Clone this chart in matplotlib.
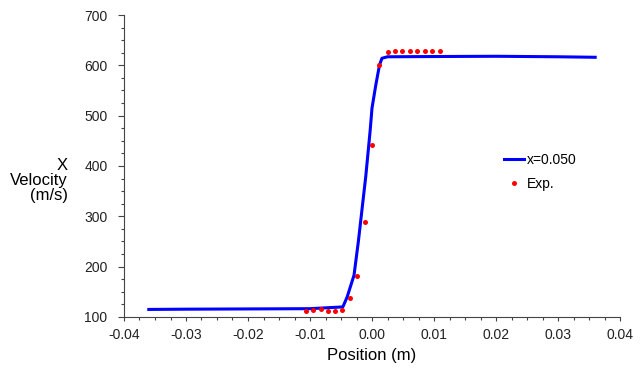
import matplotlib.pyplot as plt
from matplotlib.ticker import MultipleLocator

# simulated profile at x=0.050
sim_pos = [-0.036, -0.030, -0.020, -0.010, -0.0047, -0.0040, -0.0029, -0.0022,
           -0.0010, -0.0003, 0.0, 0.0006, 0.0012, 0.0016, 0.0025, 0.010,
           0.020, 0.030, 0.036]
sim_vel = [115, 115.5, 116, 116.5, 120, 140, 183, 250,
           380, 470, 515, 560, 600, 614, 617, 617.5,
           618, 617, 616]

# experimental points
exp_pos = [-0.0107, -0.0095, -0.0083, -0.0071, -0.0059, -0.0048, -0.0035,
           -0.0024, -0.0011, 0.0000, 0.0012, 0.0025, 0.0037, 0.0049,
           0.0061, 0.0073, 0.0085, 0.0096, 0.0109]
exp_vel = [112, 113.5, 115, 112, 112, 113.5, 137,
           181, 289, 442, 600, 626, 629, 629,
           629, 629, 629, 629, 629]

plt.rcParams["font.family"] = ["Liberation Sans", "DejaVu Sans"]

fig = plt.figure(figsize=(6.4, 3.77), dpi=100)
ax = fig.add_axes([0.19375, 0.1592, 0.775, 0.801])

ax.plot(sim_pos, sim_vel, color="#0000ff", linewidth=2.2, label="x=0.050",
        solid_joinstyle="round")
ax.plot(exp_pos, exp_vel, "o", color="#ff0000", markersize=3.6,
        markeredgewidth=0, label="Exp.")

ax.set_xlim(-0.04, 0.04)
ax.set_ylim(100, 700)
ax.xaxis.set_major_locator(MultipleLocator(0.01))
ax.xaxis.set_minor_locator(MultipleLocator(0.0025))
ax.yaxis.set_major_locator(MultipleLocator(100))
ax.yaxis.set_minor_locator(MultipleLocator(25))
ax.set_xticklabels([f"{v:.2f}" for v in ax.get_xticks()])

for side in ("top", "right"):
    ax.spines[side].set_visible(False)
for side in ("left", "bottom"):
    ax.spines[side].set_color("#444444")
    ax.spines[side].set_linewidth(0.8)

ax.tick_params(which="both", color="#444444", width=0.8, direction="out")
ax.tick_params(axis="y", which="major", length=4.3, labelsize=10,
               labelcolor="#222222", pad=7.5)
ax.tick_params(axis="y", which="minor", length=2.2)
ax.tick_params(axis="x", which="major", length=3, labelsize=10,
               labelcolor="#222222", pad=5)
ax.tick_params(axis="x", which="minor", length=2)

ax.set_xlabel("Position (m)", fontsize=12, labelpad=4)
fig.text(0.106, 0.522, "X\nVelocity\n(m/s)", ha="right", va="center",
         fontsize=12, linespacing=1.0)

ax.legend(loc="upper left", bbox_to_anchor=(0.788, 0.594),
          bbox_transform=fig.transFigure, frameon=False, fontsize=10,
          handlelength=1.45, handletextpad=0.2, borderpad=0, borderaxespad=0,
          labelspacing=0.7)

fig.savefig("out.png", dpi=100)
